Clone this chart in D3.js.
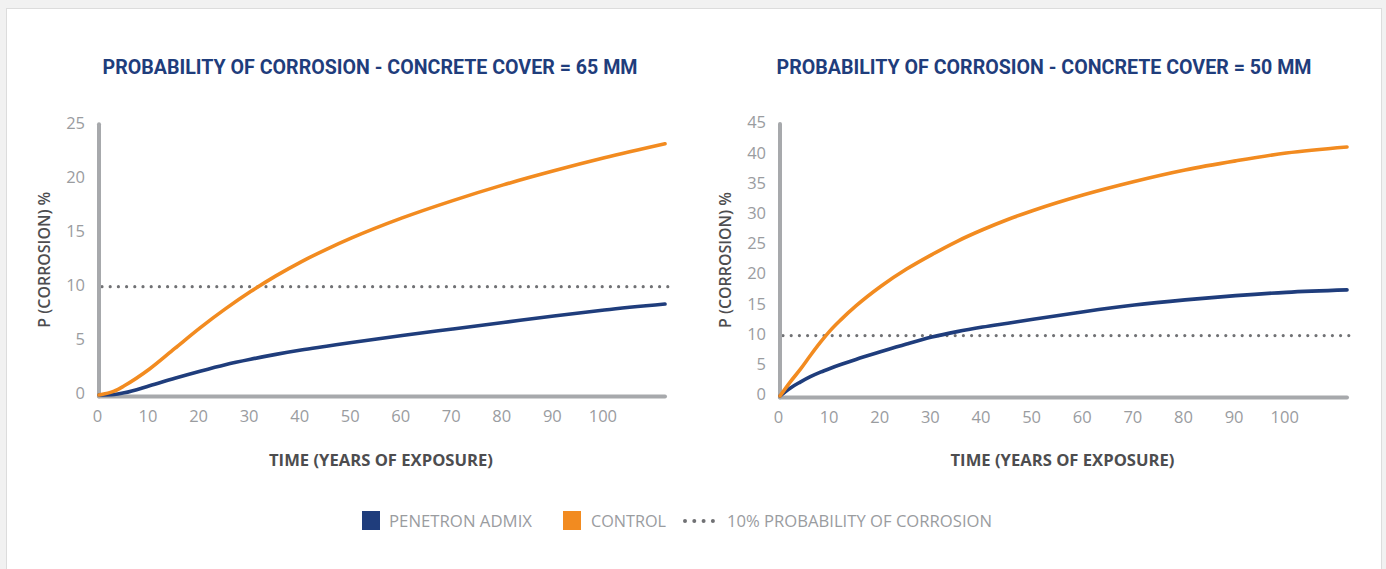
<!DOCTYPE html>
<html>
<head>
<meta charset="utf-8">
<script src="https://cdn.jsdelivr.net/npm/d3@7/dist/d3.min.js"></script>
<style>
  html, body { margin: 0; padding: 0; background: #f1f1f1; }
  svg { display: block; }
</style>
</head>
<body>
<svg id="chart" width="1386" height="569"></svg>
<script>
// ---------- DATA ----------
const titles = [
  "PROBABILITY OF CORROSION - CONCRETE COVER = 65 MM",
  "PROBABILITY OF CORROSION - CONCRETE COVER = 50 MM"
];
const xTickValues = [0, 10, 20, 30, 40, 50, 60, 70, 80, 90, 100];
const yTickValues65 = [0, 5, 10, 15, 20, 25];
const yTickValues50 = [0, 5, 10, 15, 20, 25, 30, 35, 40, 45];
const threshold = 10;

// cover = 65 mm
const years65 = [0, 3, 5, 10, 15, 20, 25, 30, 35, 40, 45, 50, 60, 70, 80, 90, 100, 112];
const control65 = [0, 0.35, 0.85, 2.4, 4.3, 6.2, 7.95, 9.55, 11.0, 12.3, 13.45, 14.5, 16.35, 17.95, 19.4, 20.7, 21.9, 23.2];
const penetron65 = [0, 0.05, 0.2, 0.85, 1.55, 2.2, 2.8, 3.3, 3.75, 4.15, 4.5, 4.85, 5.5, 6.1, 6.7, 7.3, 7.85, 8.4];

// cover = 50 mm
const years50 = [0, 2, 4, 6, 8, 10, 12, 15, 20, 25, 30, 35, 40, 45, 50, 60, 70, 80, 90, 100, 112];
const control50 = [0, 2.3, 4.4, 6.7, 8.9, 10.9, 12.6, 14.9, 18.2, 21.0, 23.4, 25.6, 27.5, 29.2, 30.7, 33.3, 35.5, 37.4, 38.9, 40.2, 41.2];
const penetron50 = [0, 1.3, 2.3, 3.2, 3.95, 4.6, 5.2, 6.05, 7.35, 8.6, 9.75, 10.65, 11.4, 12.05, 12.7, 13.95, 15.05, 15.9, 16.6, 17.15, 17.55];

const legendLabels = ["PENETRON ADMIX", "CONTROL", "10% PROBABILITY OF CORROSION"];

// ---------- STYLE ----------
const NAVY = "#1f3d7c";
const ORANGE = "#f28b20";
const AXIS = "#a7a9ac";
const TICK = "#9a9c9f";
const DOT = "#707174";
const DARK = "#4d4d4f";

const svg = d3.select("#chart");

// card
svg.append("rect")
  .attr("x", 6.5).attr("y", 8.5).attr("width", 1375).attr("height", 580)
  .attr("fill", "#ffffff").attr("stroke", "#dcdcdc");

function panel(cfg) {
  const g = svg.append("g");
  const x = d3.scaleLinear().domain([0, 112]).range([cfg.x0, cfg.x1]);
  const y = d3.scaleLinear().domain([0, cfg.yMax]).range([cfg.y0, cfg.y1]);

  // title
  g.append("text")
    .attr("x", cfg.titleX).attr("y", 74)
    .attr("text-anchor", "middle")
    .attr("font-family", "Roboto, 'Open Sans', sans-serif")
    .attr("font-weight", 700).attr("font-size", 20)
    .attr("fill", NAVY)
    .attr("textLength", 535).attr("lengthAdjust", "spacingAndGlyphs")
    .text(cfg.title);

  // dotted threshold
  g.append("line")
    .attr("x1", x(0) + 3).attr("x2", x.range()[1] + 4)
    .attr("y1", y(threshold)).attr("y2", y(threshold))
    .attr("stroke", DOT).attr("stroke-width", 3.2)
    .attr("stroke-linecap", "round")
    .attr("stroke-dasharray", "0 8.2");

  // axes lines
  const axisY = y(0) + 1.5;
  g.append("line")
    .attr("x1", x(0)).attr("x2", x(0))
    .attr("y1", y(cfg.yMax)).attr("y2", axisY)
    .attr("stroke", AXIS).attr("stroke-width", 4).attr("stroke-linecap", "round");
  g.append("line")
    .attr("x1", x(0)).attr("x2", x.range()[1])
    .attr("y1", axisY).attr("y2", axisY)
    .attr("stroke", AXIS).attr("stroke-width", 4).attr("stroke-linecap", "round");

  // x axis ticks (labels only)
  const xAxis = d3.axisBottom(x).tickValues(xTickValues).tickSize(0).tickPadding(0);
  const gx = g.append("g").attr("transform", `translate(-2,${axisY + 25})`).call(xAxis);
  gx.select(".domain").remove();
  gx.selectAll("text")
    .attr("font-family", "'Open Sans', sans-serif").attr("font-size", 16.5)
    .attr("fill", TICK).attr("dy", "0");

  // y axis ticks
  const yAxis = d3.axisLeft(y).tickValues(cfg.yTicks).tickSize(0).tickPadding(0);
  const gy = g.append("g").attr("transform", `translate(${x(0) - 14},-2)`).call(yAxis);
  gy.select(".domain").remove();
  gy.selectAll("text")
    .attr("font-family", "'Open Sans', sans-serif").attr("font-size", 16.5)
    .attr("fill", TICK).attr("dy", "0.35em");

  // axis titles
  g.append("text")
    .attr("transform", `translate(${x(0) - 55},${(y(0) + y(cfg.yMax)) / 2}) rotate(-90)`)
    .attr("text-anchor", "middle").attr("dy", "0.35em")
    .attr("font-family", "'Open Sans', sans-serif").attr("font-weight", 600)
    .attr("font-size", 17).attr("fill", DARK)
    .attr("textLength", 136).attr("lengthAdjust", "spacingAndGlyphs")
    .text("P (CORROSION) %");

  g.append("text")
    .attr("x", (x(0) + x.range()[1]) / 2 - 1).attr("y", 466)
    .attr("text-anchor", "middle")
    .attr("font-family", "'Open Sans', sans-serif").attr("font-weight", 700)
    .attr("font-size", 16.5).attr("fill", DARK)
    .attr("textLength", 224).attr("lengthAdjust", "spacingAndGlyphs")
    .text("TIME (YEARS OF EXPOSURE)");

  // series
  const line = d3.line()
    .x(d => x(d[0])).y(d => y(d[1]))
    .curve(d3.curveMonotoneX);

  const series = [
    { vals: cfg.penetron, color: NAVY },
    { vals: cfg.control, color: ORANGE }
  ];
  series.forEach(s => {
    g.append("path")
      .datum(cfg.years.map((t, i) => [t, s.vals[i]]))
      .attr("d", line)
      .attr("fill", "none")
      .attr("stroke", s.color).attr("stroke-width", 3.6)
      .attr("stroke-linecap", "round").attr("stroke-linejoin", "round");
  });
}

panel({
  title: titles[0], titleX: 370,
  x0: 99, x1: 665, y0: 395, y1: 124.25, yMax: 25,
  yTicks: yTickValues65,
  years: years65, control: control65, penetron: penetron65
});

panel({
  title: titles[1], titleX: 1044,
  x0: 780, x1: 1347, y0: 396, y1: 124, yMax: 45,
  yTicks: yTickValues50,
  years: years50, control: control50, penetron: penetron50
});

// ---------- LEGEND ----------
const lg = svg.append("g");
const legendFont = 16.5;
lg.append("rect").attr("x", 362).attr("y", 511).attr("width", 18).attr("height", 19).attr("fill", NAVY);
lg.append("text").attr("x", 389).attr("y", 527)
  .attr("font-family", "'Open Sans', sans-serif").attr("font-size", legendFont).attr("fill", TICK)
  .attr("textLength", 143).attr("lengthAdjust", "spacingAndGlyphs")
  .text(legendLabels[0]);
lg.append("rect").attr("x", 563).attr("y", 511).attr("width", 18).attr("height", 19).attr("fill", ORANGE);
lg.append("text").attr("x", 591).attr("y", 527)
  .attr("font-family", "'Open Sans', sans-serif").attr("font-size", legendFont).attr("fill", TICK)
  .attr("textLength", 75).attr("lengthAdjust", "spacingAndGlyphs")
  .text(legendLabels[1]);
lg.append("line").attr("x1", 685).attr("x2", 713).attr("y1", 521).attr("y2", 521)
  .attr("stroke", DOT).attr("stroke-width", 4).attr("stroke-linecap", "round")
  .attr("stroke-dasharray", "0 9.3");
lg.append("text").attr("x", 727).attr("y", 527)
  .attr("font-family", "'Open Sans', sans-serif").attr("font-size", legendFont).attr("fill", TICK)
  .attr("textLength", 265).attr("lengthAdjust", "spacingAndGlyphs")
  .text(legendLabels[2]);
</script>
</body>
</html>
